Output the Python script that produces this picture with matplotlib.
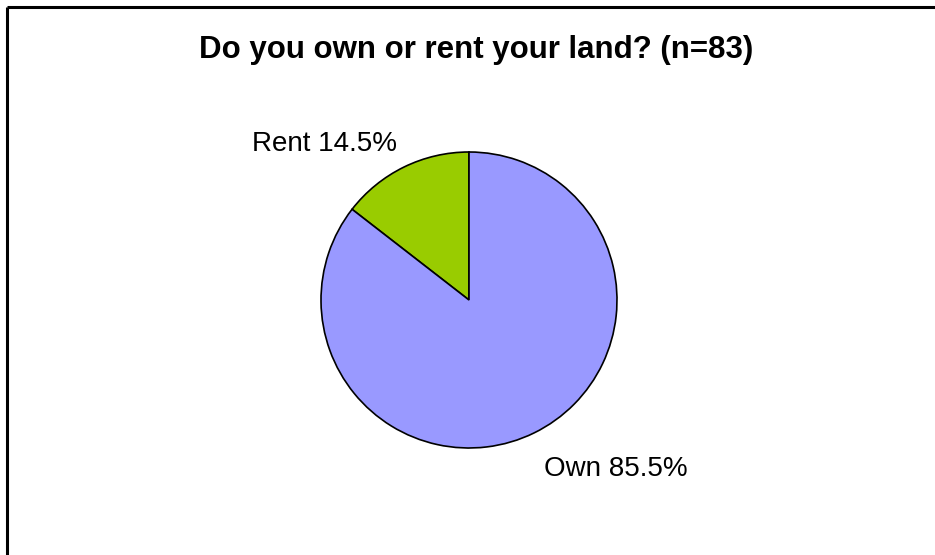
import matplotlib
matplotlib.use("Agg")
import numpy as np
from matplotlib import pyplot as plt

plt.rcParams['font.family'] = ['Liberation Sans', 'DejaVu Sans']

title = "Do you own or rent your land? (n=83)"
categories = ["Rent", "Own"]
shares = [14.5, 85.5]
colors = ["#99cc00", "#9999ff"]

W, H = 935, 555
fig = plt.figure(figsize=(W / 100, H / 100), dpi=100)
ax = fig.add_axes([0, 0, 1, 1])

# chart frame (only top and left edges show in the original crop)
ax.plot([7, W], [H - 7, H - 7], color='black', lw=2.2, solid_capstyle='butt')
ax.plot([7, 7], [0, H - 7], color='black', lw=2.2, solid_capstyle='butt')

cx, cy, r = 469, H - 300, 148
ax.pie(shares, colors=colors, startangle=90, counterclock=True,
       center=(cx, cy), radius=r, frame=True,
       wedgeprops=dict(edgecolor='black', linewidth=1.2))
ax.set_xlim(0, W)
ax.set_ylim(0, H)
ax.set_aspect('equal')
ax.axis('off')

# label anchors in pixels: (x, baseline y, horizontal alignment)
label_pos = [(252, 151, 'left'), (688, 476, 'right')]
for cat, val, (x, y, ha) in zip(categories, shares, label_pos):
    ax.text(x, H - y, f"{cat} {val:.1f}%", ha=ha, va='baseline', fontsize=20)

ax.text(476, H - 58, title, ha='center', va='baseline',
        fontsize=22.5, fontweight='bold')

fig.savefig("out.png", dpi=100)
